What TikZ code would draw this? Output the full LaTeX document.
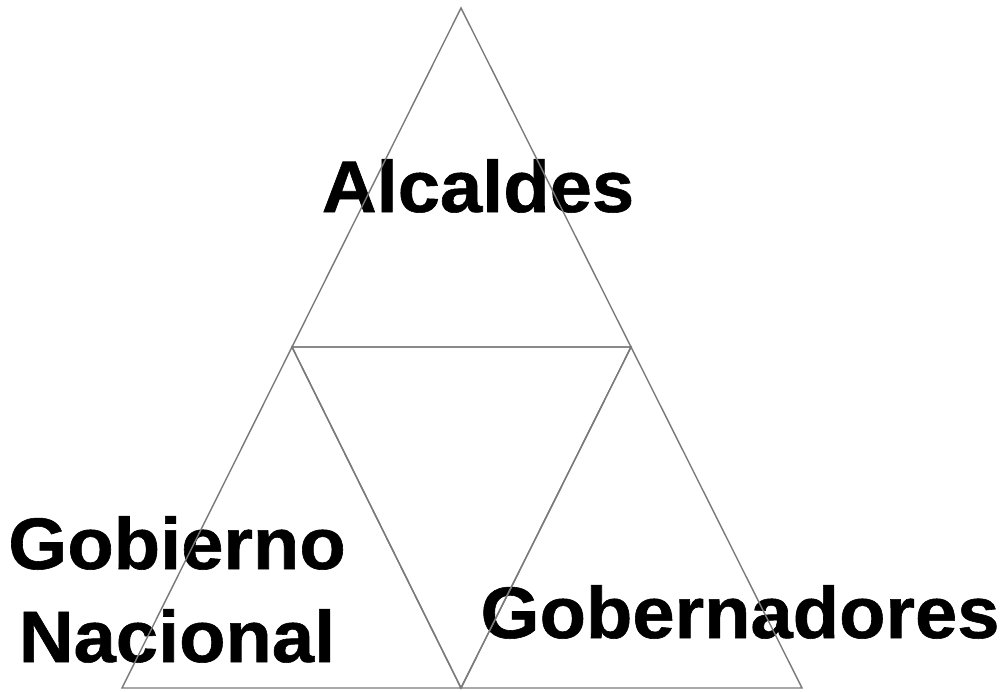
\documentclass[tikz,border=0pt]{standalone}
\usepackage{fontspec}
\setmainfont{Liberation Sans}
\newfontfamily\lblfont[FakeBold=0.8]{Liberation Sans Bold}
\begin{document}
\begin{tikzpicture}[x=1pt,y=-1pt,
  tri/.style={draw=black!52,line width=1.4pt,line join=miter},
  lbl/.style={font=\lblfont\fontsize{73}{73}\selectfont,inner sep=0pt,anchor=base,xscale=1.04,text=black}]
\useasboundingbox[fill=white] (0,0) rectangle (1003,691);
\coordinate (T) at (461,8);
\coordinate (L) at (292,347);
\coordinate (R) at (631,347);
\coordinate (BL) at (122,688);
\coordinate (BM) at (461,688);
\coordinate (BR) at (802,688);
\node[lbl] (alc) at (478,212) {Alcaldes};
\node[lbl] (gob) at (177,569) {Gobierno};
\node[lbl] (nac) at (177,662) {Nacional};
\node[lbl] (gbr) at (740,638) {Gobernadores};
\draw[tri] (T) -- (L) -- (R) -- cycle;
\draw[tri] (L) -- (BL) -- (BM) -- cycle;
\draw[tri] (R) -- (BM) -- (BR) -- cycle;
\draw[tri] (L) -- (R) -- (BM) -- cycle;
\end{tikzpicture}
\end{document}
